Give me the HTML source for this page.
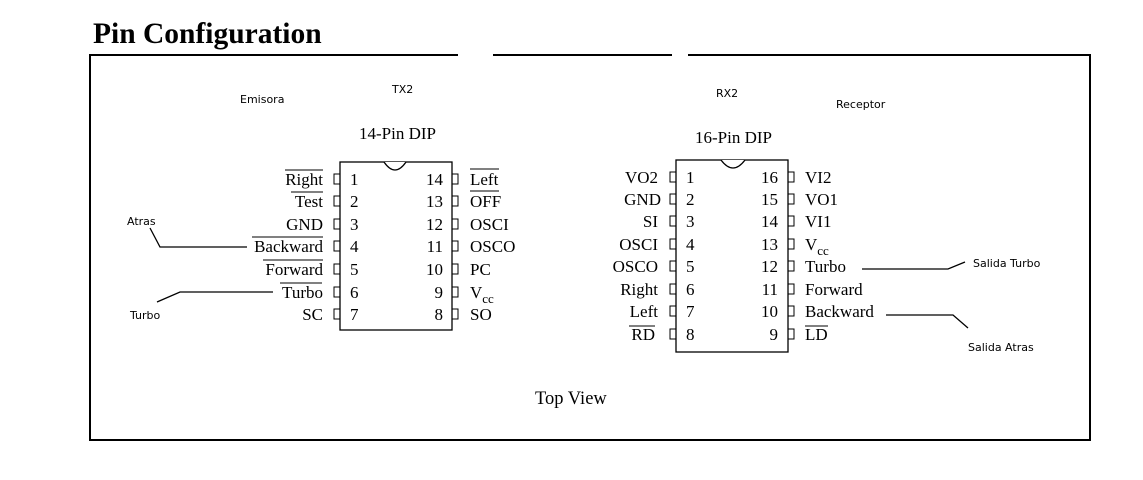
<!DOCTYPE html>
<html><head><meta charset="utf-8"><style>
html,body{margin:0;padding:0;background:#fff;width:1143px;height:480px;overflow:hidden}
svg{display:block}
.s{font-family:"Liberation Serif",serif;font-size:17px;fill:#000}
.a{font-family:"DejaVu Sans","Liberation Sans",sans-serif;font-size:11px;fill:#000}
.r{text-anchor:end}
</style></head><body>
<svg width="1143" height="480" viewBox="0 0 1143 480" xmlns="http://www.w3.org/2000/svg">
<text x="93" y="43" font-family="Liberation Serif,serif" font-weight="bold" font-size="29.5">Pin Configuration</text>
<g stroke="#000" stroke-width="2" fill="none">
<polyline points="458,55 90,55 90,440 1090,440 1090,55 688,55"/>
<line x1="493" y1="55" x2="672" y2="55"/>
</g>
<text class="a" x="240" y="103">Emisora</text>
<text class="a" x="392" y="93">TX2</text>
<text class="a" x="716" y="97">RX2</text>
<text class="a" x="836" y="108">Receptor</text>
<text class="s" x="359" y="139">14-Pin DIP</text>
<text class="s" x="695" y="143">16-Pin DIP</text>
<text class="s" x="535" y="404" style="font-size:18.5px">Top View</text>

<g stroke="#000" stroke-width="1.3" fill="none">
<rect x="340" y="162" width="112" height="168"/>
<path d="M384,162 Q395,178 406,162" fill="#fff"/>
<rect x="676" y="160" width="112" height="192"/>
<path d="M721,160 Q733,176 745,160" fill="#fff"/>
<polyline points="150,228 160,247 247,247"/>
<polyline points="157,302 180,292 273,292"/>
<polyline points="862,269 948,269 965,262"/>
<polyline points="886,315 953,315 968,328"/>
</g>
<text class="a" x="127" y="225">Atras</text>
<text class="a" x="130" y="319">Turbo</text>
<text class="a" x="973" y="267">Salida Turbo</text>
<text class="a" x="968" y="351">Salida Atras</text>

<g stroke="#000" stroke-width="1" fill="none">
<path d="M340,174 H334 V184 H340 M340,196 H334 V206 H340 M340,219 H334 V229 H340 M340,241 H334 V251 H340 M340,264 H334 V274 H340 M340,287 H334 V297 H340 M340,309 H334 V319 H340"/>
<path d="M452,174 H458 V184 H452 M452,196 H458 V206 H452 M452,219 H458 V229 H452 M452,241 H458 V251 H452 M452,264 H458 V274 H452 M452,287 H458 V297 H452 M452,309 H458 V319 H452"/>
<path d="M676,172 H670 V182 H676 M676,194 H670 V204 H676 M676,216 H670 V226 H676 M676,239 H670 V249 H676 M676,261 H670 V271 H676 M676,284 H670 V294 H676 M676,306 H670 V316 H676 M676,329 H670 V339 H676"/>
<path d="M788,172 H794 V182 H788 M788,194 H794 V204 H788 M788,216 H794 V226 H788 M788,239 H794 V249 H788 M788,261 H794 V271 H788 M788,284 H794 V294 H788 M788,306 H794 V316 H788 M788,329 H794 V339 H788"/>
</g>
<g stroke="#000" stroke-width="1">
<line x1="285" y1="170" x2="323" y2="170"/>
<line x1="291" y1="192" x2="323" y2="192"/>
<line x1="252" y1="237" x2="323" y2="237"/>
<line x1="263" y1="260" x2="323" y2="260"/>
<line x1="280" y1="283" x2="322" y2="283"/>
<line x1="470" y1="169" x2="499" y2="169"/>
<line x1="470" y1="191" x2="499" y2="191"/>
<line x1="629" y1="326" x2="655" y2="326"/>
<line x1="805" y1="326" x2="828" y2="326"/>
</g>
<g class="s">
<text class="r" x="323" y="185">Right</text>
<text class="r" x="323" y="207">Test</text>
<text class="r" x="323" y="230">GND</text>
<text class="r" x="323" y="252">Backward</text>
<text class="r" x="323" y="275">Forward</text>
<text class="r" x="323" y="298">Turbo</text>
<text class="r" x="323" y="320">SC</text>
<text x="350" y="185">1</text><text x="350" y="207">2</text><text x="350" y="230">3</text><text x="350" y="252">4</text><text x="350" y="275">5</text><text x="350" y="298">6</text><text x="350" y="320">7</text>
<text class="r" x="443" y="185">14</text><text class="r" x="443" y="207">13</text><text class="r" x="443" y="230">12</text><text class="r" x="443" y="252">11</text><text class="r" x="443" y="275">10</text><text class="r" x="443" y="298">9</text><text class="r" x="443" y="320">8</text>
<text x="470" y="185">Left</text>
<text x="470" y="207">OFF</text>
<text x="470" y="230">OSCI</text>
<text x="470" y="252">OSCO</text>
<text x="470" y="275">PC</text>
<text x="470" y="298">V<tspan font-size="13" dy="5">cc</tspan></text>
<text x="470" y="320">SO</text>

<text class="r" x="658" y="183">VO2</text>
<text class="r" x="661" y="205">GND</text>
<text class="r" x="658" y="227">SI</text>
<text class="r" x="658" y="250">OSCI</text>
<text class="r" x="658" y="272">OSCO</text>
<text class="r" x="658" y="295">Right</text>
<text class="r" x="658" y="317">Left</text>
<text class="r" x="655" y="340">RD</text>
<text x="686" y="183">1</text><text x="686" y="205">2</text><text x="686" y="227">3</text><text x="686" y="250">4</text><text x="686" y="272">5</text><text x="686" y="295">6</text><text x="686" y="317">7</text><text x="686" y="340">8</text>
<text class="r" x="778" y="183">16</text><text class="r" x="778" y="205">15</text><text class="r" x="778" y="227">14</text><text class="r" x="778" y="250">13</text><text class="r" x="778" y="272">12</text><text class="r" x="778" y="295">11</text><text class="r" x="778" y="317">10</text><text class="r" x="778" y="340">9</text>
<text x="805" y="183">VI2</text>
<text x="805" y="205">VO1</text>
<text x="805" y="227">VI1</text>
<text x="805" y="250">V<tspan font-size="13" dy="5">cc</tspan></text>
<text x="805" y="272">Turbo</text>
<text x="805" y="295">Forward</text>
<text x="805" y="317">Backward</text>
<text x="805" y="340">LD</text>
</g>
</svg>
</body></html>
